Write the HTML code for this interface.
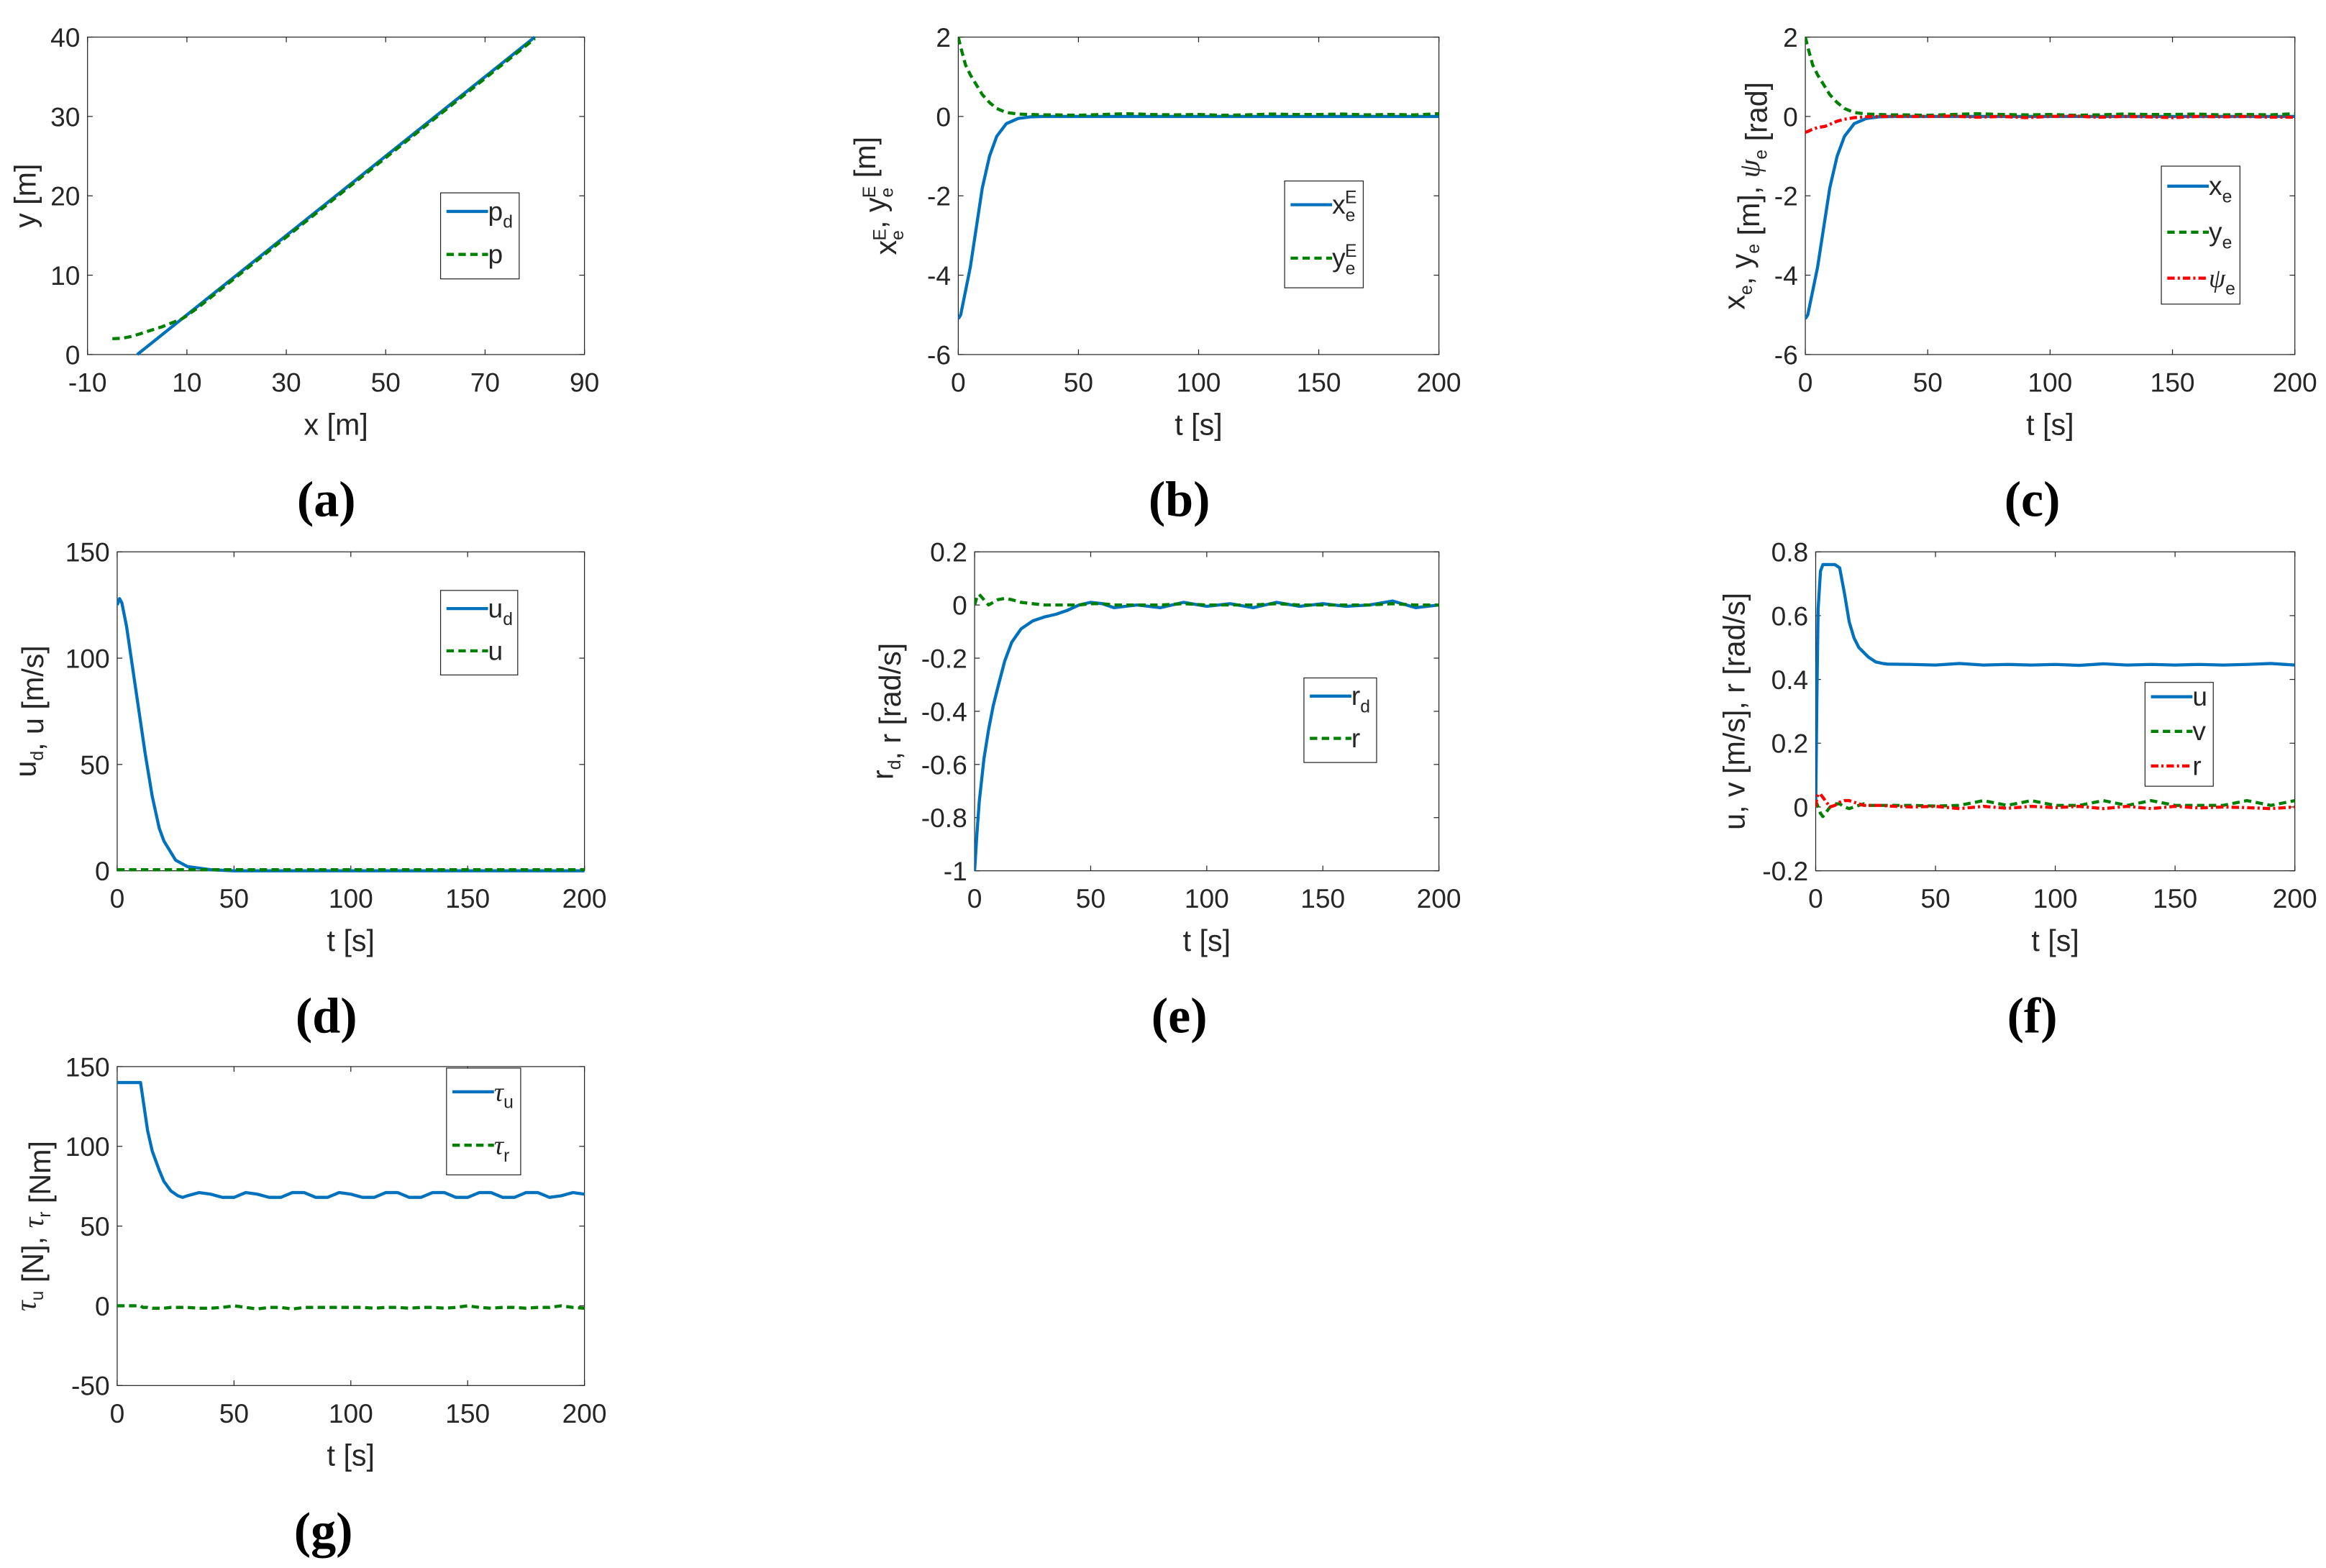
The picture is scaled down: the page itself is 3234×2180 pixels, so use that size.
<!DOCTYPE html>
<html><head><meta charset="utf-8"><style>
html,body{margin:0;padding:0;background:#fff;}
svg{display:block;}
text{font-family:"Liberation Sans",sans-serif;fill:#262626;}
</style></head><body>
<svg id="fig" xmlns="http://www.w3.org/2000/svg" width="3234" height="2180" viewBox="0 0 1568 1057" preserveAspectRatio="none"></svg>
<script>
// ---- data ----
const aPdX=[0,80], aPdY=[0,40];
const aPX=[-5,-3,-1,1,3,5,7,9,10,12,20,40,60,80];
const aPY=[2,2.05,2.3,2.7,3.1,3.5,4.0,4.5,4.9,5.8,9.8,19.8,29.8,39.8];
const tB=[0,1,3,5,8,10,13,16,20,25,30,35,40,50,60,70,80,90,100,110,120,130,140,150,160,170,180,190,200];
const bX=[-5.1,-5.0,-4.4,-3.8,-2.6,-1.8,-1.0,-0.5,-0.18,-0.05,-0.01,0,0,0,0,0,0,0,0,0,0,0,0,0,0,0,0,0,0];
const bY=[2,1.75,1.3,1.05,0.75,0.55,0.35,0.2,0.1,0.06,0.05,0.04,0.04,0.03,0.05,0.07,0.05,0.04,0.05,0.03,0.04,0.06,0.05,0.05,0.06,0.04,0.05,0.04,0.07];
const cPsi=[-0.4,-0.38,-0.32,-0.28,-0.25,-0.2,-0.12,-0.07,-0.03,-0.01,0,0,0,0,0.01,-0.02,0,-0.03,0,0.01,-0.02,0,-0.01,-0.03,0,-0.01,0,-0.02,-0.02];
const tD=[0,1,2,4,6,8,10,12,15,18,20,25,30,40,50,100,150,200];
const dUd=[125,128,126,115,100,85,70,55,35,20,14,5,2,0.5,0,0,0,0];
const dU=[0.5,0.5,0.5,0.5,0.5,0.5,0.5,0.5,0.5,0.5,0.5,0.5,0.5,0.5,0.5,0.5,0.5,0.5];
const tE=[0,1,2,4,6,8,10,13,16,20,25,30,35,40,45,50,55,60,70,80,90,100,110,120,130,140,150,160,170,180,190,200];
const eRd=[-1,-0.86,-0.74,-0.58,-0.47,-0.38,-0.31,-0.21,-0.14,-0.09,-0.06,-0.045,-0.035,-0.02,0,0.01,0.005,-0.01,0,-0.01,0.01,-0.005,0.005,-0.01,0.01,-0.005,0.005,-0.005,0,0.015,-0.01,0];
const eR=[0,0.03,0.04,0.02,0.0,0.01,0.02,0.025,0.02,0.01,0.005,0,0,0,0,0.005,0.005,0,0,0,0.005,0,0,0,0.005,0,0,0,0,0.005,0,0];
const tF=[0,0.5,1,2,3,4,6,8,10,12,14,16,18,20,22,25,28,30,40,50,60,70,80,90,100,110,120,130,140,150,160,170,180,190,200];
const fU=[0,0.35,0.62,0.74,0.76,0.76,0.76,0.76,0.75,0.67,0.58,0.53,0.5,0.485,0.47,0.455,0.45,0.448,0.447,0.445,0.45,0.445,0.447,0.445,0.447,0.444,0.449,0.445,0.447,0.445,0.447,0.445,0.447,0.45,0.445];
const fV=[0,0.01,0.0,-0.02,-0.03,-0.02,0,0.01,0.01,0,-0.005,0.0,0.005,0.01,0.005,0.005,0.005,0.005,0.005,0.003,0.005,0.02,0.005,0.02,0.005,0.005,0.02,0.005,0.02,0.005,0.005,0.005,0.02,0.005,0.02];
const fR=[0,0.03,0.04,0.04,0.03,0.02,0,0.005,0.015,0.02,0.02,0.015,0.01,0.005,0.005,0.005,0.005,0.003,0,0.002,-0.005,0.002,-0.004,0.002,-0.002,0.002,-0.005,0.002,-0.005,0.002,-0.003,0,-0.002,-0.005,0];
const tG=[0,10,11,13,15,18,20,23,26,28,30,35,40,45,50,55,60,65,70,75,80,85,90,95,100,105,110,115,120,125,130,135,140,145,150,155,160,165,170,175,180,185,190,195,200];
const gTu=[140,140,130,110,97,85,78,72,69,68,69,71,70,68,68,71,70,68,68,71,71,68,68,71,70,68,68,71,71,68,68,71,71,68,68,71,71,68,68,71,71,68,69,71,70];
const gTr=[0,0,-1,-1,-1.5,-1.5,-1.5,-1,-1,-1,-1,-1.5,-1.5,-1,0,-1,-2,-1,-1,-2,-1,-1,-1,-1,-1,-1,-1.5,-1,-1,-1.5,-1,-1,-1.5,-1,0,-1,-1.5,-1,-1,-1.5,-1,-1,0,-1,-1.5];

const NS="http://www.w3.org/2000/svg";
const svg=document.getElementById('fig');
const BLUE="#0072BD",GREEN="#008000",RED="#FF0000";
function el(tag,attrs,parent){const e=document.createElementNS(NS,tag);for(const k in attrs)e.setAttribute(k,attrs[k]);(parent||svg).appendChild(e);return e;}

function panel(c){
  const g=el('g',{});
  
  
  const sx=v=>c.x0+(v-c.xmin)/(c.xmax-c.xmin)*(c.x1-c.x0);
  const sy=v=>c.y1-(v-c.ymin)/(c.ymax-c.ymin)*(c.y1-c.y0);
  el('rect',{x:c.x0,y:c.y0,width:c.x1-c.x0,height:c.y1-c.y0,fill:'#fff',stroke:'#262626','stroke-width':0.6},g);
  const clipId='clip'+c.id;
  const cp=el('clipPath',{id:clipId},g);el('rect',{x:c.x0,y:c.y0-2,width:c.x1-c.x0,height:c.y1-c.y0+4},cp);
  c.xt.forEach(v=>{const x=sx(v);
    el('line',{x1:x,y1:c.y1,x2:x,y2:c.y1-3.5,stroke:'#262626','stroke-width':0.6},g);
    el('line',{x1:x,y1:c.y0,x2:x,y2:c.y0+3.5,stroke:'#262626','stroke-width':0.6},g);
    const t=el('text',{x:x,y:c.y1+25,'text-anchor':'middle','font-size':18},g);t.textContent=v;
    });
  c.yt.forEach(v=>{const y=sy(v);
    el('line',{x1:c.x0,y1:y,x2:c.x0+3.5,y2:y,stroke:'#262626','stroke-width':0.6},g);
    el('line',{x1:c.x1,y1:y,x2:c.x1-3.5,y2:y,stroke:'#262626','stroke-width':0.6},g);
    const t=el('text',{x:c.x0-5,y:y+6.5,'text-anchor':'end','font-size':18},g);t.textContent=v;
    });
  const sg=el('g',{'clip-path':'url(#'+clipId+')'},g);
  c.series.forEach(s=>{
    let d='';s.x.forEach((xv,i)=>{d+=(i?'L':'M')+sx(xv).toFixed(2)+','+sy(s.y[i]).toFixed(2);});
    const p=el('path',{d:d,fill:'none',stroke:s.color,'stroke-width':2.1,'stroke-dasharray':s.dash||'none','stroke-linejoin':'round'},sg);
    });
  const xl=el('text',{x:(c.x0+c.x1)/2,y:c.y1+54,'text-anchor':'middle','font-size':20},g);xl.textContent=c.xlabel;
  
  const yl=el('text',{x:0,y:0,'text-anchor':'middle','font-size':20,transform:'translate('+c.ylx+','+((c.y0+c.y1)/2)+') rotate(-90)'},g);
  yl.innerHTML=c.ylabel;
  
  const L=c.leg;
  const lg=el('g',{},g);
  
  el('rect',{x:L.x,y:L.y,width:L.w,height:L.h,fill:'#fff',stroke:'#262626','stroke-width':0.6},lg);
  const step=L.h/c.series.length;
  c.series.forEach((s,i)=>{const cy=L.y+step*(i+0.5)-2;
    const ln=el('line',{x1:L.x+4,y1:cy,x2:L.x+32,y2:cy,stroke:s.color,'stroke-width':2.1,'stroke-dasharray':s.dash||'none'},lg);
    
    const t=el('text',{x:L.x+32,y:cy+6,'font-size':18},lg);t.innerHTML=s.label;
    });
  const pl=el('text',{x:c.letterX,y:c.y1+109,'text-anchor':'middle','font-size':34,'font-weight':'bold',style:'font-family:"Liberation Serif",serif;fill:#000'},g);
  pl.textContent='('+c.id+')';
  
}
const sub=(b,s)=>b+'<tspan dy="5" font-size="12">'+s+'</tspan><tspan dy="-5"></tspan>';
const subsup=(b,s,p)=>b+'<tspan dy="5" font-size="12">'+s+'</tspan><tspan dx="-7" dy="-12" font-size="12">'+p+'</tspan><tspan dy="7"></tspan>';
const psi='<tspan font-style="italic" style="font-family:\'Liberation Serif\',serif">ψ</tspan>';
const tau='<tspan font-style="italic" style="font-family:\'Liberation Serif\',serif">τ</tspan>';
const T=[0,50,100,150,200];
const DASH='5,3', DD='5,2,1.5,2';

panel({id:'a',x0:59,x1:394,y0:25,y1:239,xmin:-10,xmax:90,ymin:0,ymax:40,xt:[-10,10,30,50,70,90],yt:[0,10,20,30,40],
  xlabel:'x [m]',ylabel:'y [m]',ylx:24,letterX:220,leg:{x:297,y:130,w:53,h:58},
  series:[{name:'pd',x:aPdX,y:aPdY,color:BLUE,label:sub('p','d')},{name:'p',x:aPX,y:aPY,color:GREEN,dash:DASH,label:'p'}]});
panel({id:'b',x0:646,x1:970,y0:25,y1:239,xmin:0,xmax:200,ymin:-6,ymax:2,xt:T,yt:[-6,-4,-2,0,2],
  xlabel:'t [s]',ylabel:subsup('x','e','E')+', '+subsup('y','e','E')+' [m]',ylx:604,letterX:795,leg:{x:866,y:122,w:53,h:72},
  series:[{name:'xeE',x:tB,y:bX,color:BLUE,label:subsup('x','e','E')},{name:'yeE',x:tB,y:bY,color:GREEN,dash:DASH,label:subsup('y','e','E')}]});
panel({id:'c',x0:1217,x1:1547,y0:25,y1:239,xmin:0,xmax:200,ymin:-6,ymax:2,xt:T,yt:[-6,-4,-2,0,2],
  xlabel:'t [s]',ylabel:sub('x','e')+', '+sub('y','e')+' [m], '+sub(psi,'e')+' [rad]',ylx:1176,letterX:1370,leg:{x:1457,y:112,w:53,h:93},
  series:[{name:'xe',x:tB,y:bX,color:BLUE,label:sub('x','e')},{name:'ye',x:tB,y:bY,color:GREEN,dash:DASH,label:sub('y','e')},{name:'psie',x:tB,y:cPsi,color:RED,dash:DD,label:sub(psi,'e')}]});
panel({id:'d',x0:79,x1:394,y0:372,y1:587,xmin:0,xmax:200,ymin:0,ymax:150,xt:T,yt:[0,50,100,150],
  xlabel:'t [s]',ylabel:sub('u','d')+', u [m/s]',ylx:24,letterX:220,leg:{x:297,y:398,w:52,h:57},
  series:[{name:'ud',x:tD,y:dUd,color:BLUE,label:sub('u','d')},{name:'u',x:tD,y:dU,color:GREEN,dash:DASH,label:'u'}]});
panel({id:'e',x0:657,x1:970,y0:372,y1:587,xmin:0,xmax:200,ymin:-1,ymax:0.2,xt:T,yt:[-1,-0.8,-0.6,-0.4,-0.2,0,0.2],
  xlabel:'t [s]',ylabel:sub('r','d')+', r [rad/s]',ylx:602,letterX:795,leg:{x:879,y:457,w:49,h:57},
  series:[{name:'rd',x:tE,y:eRd,color:BLUE,label:sub('r','d')},{name:'r',x:tE,y:eR,color:GREEN,dash:DASH,label:'r'}]});
panel({id:'f',x0:1224,x1:1547,y0:372,y1:587,xmin:0,xmax:200,ymin:-0.2,ymax:0.8,xt:T,yt:[-0.2,0,0.2,0.4,0.6,0.8],
  xlabel:'t [s]',ylabel:'u, v [m/s], r [rad/s]',ylx:1176,letterX:1370,leg:{x:1446,y:460,w:46,h:70},
  series:[{name:'u',x:tF,y:fU,color:BLUE,label:'u'},{name:'v',x:tF,y:fV,color:GREEN,dash:DASH,label:'v'},{name:'r',x:tF,y:fR,color:RED,dash:DD,label:'r'}]});
panel({id:'g',x0:79,x1:394,y0:719,y1:934,xmin:0,xmax:200,ymin:-50,ymax:150,xt:T,yt:[-50,0,50,100,150],
  xlabel:'t [s]',ylabel:sub(tau,'u')+' [N], '+sub(tau,'r')+' [Nm]',ylx:24,letterX:218,leg:{x:301,y:720,w:50,h:72},
  series:[{name:'tau-u',x:tG,y:gTu,color:BLUE,label:sub(tau,'u')},{name:'tau-r',x:tG,y:gTr,color:GREEN,dash:DASH,label:sub(tau,'r')}]});
</script>
</body></html>
